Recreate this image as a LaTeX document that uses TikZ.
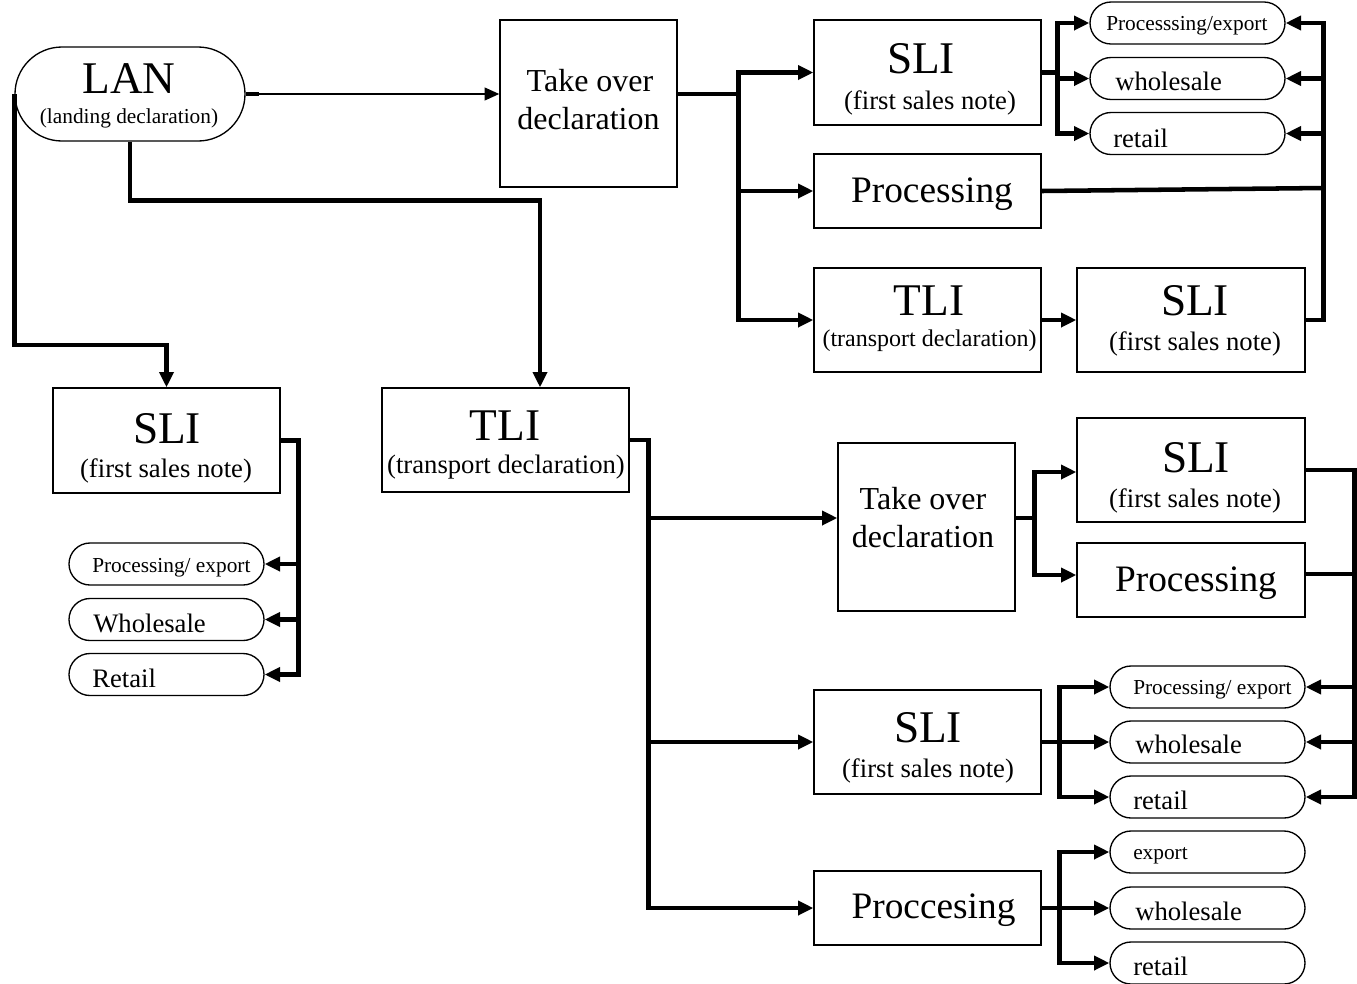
\documentclass[tikz,border=0pt]{standalone}
\usepackage{fontspec}
\setmainfont{Liberation Serif}
\usetikzlibrary{arrows.meta,shapes.misc,calc}
\tikzset{
  box/.style={draw, line width=1pt, inner sep=0pt},
  sz/.style 2 args={minimum width=#1*0.75pt, minimum height=#2*0.75pt},
  oval/.style={draw, rounded rectangle, line width=1pt, inner sep=0pt, minimum width=195*0.75pt, minimum height=42*0.75pt},
  t/.style={inner sep=0pt, anchor=base},
  tl/.style={inner sep=0pt, anchor=base west},
  fbig/.style={font=\fontsize{34}{40}\selectfont},
  fsub/.style={font=\fontsize{20}{24}\selectfont},
  fsubs/.style={font=\fontsize{18}{22}\selectfont},
  fland/.style={font=\fontsize{16}{19}\selectfont},
  ftake/.style={font=\fontsize{24}{28}\selectfont},
  fproc/.style={font=\fontsize{28}{33}\selectfont},
  fsmall/.style={font=\fontsize{16}{19}\selectfont},
  fmed/.style={font=\fontsize{20}{24}\selectfont},
  line/.style={line width=3.4pt},
  conn/.style={line width=3.4pt, -{Triangle[length=11.5pt,width=10.5pt]}},
  thinconn/.style={line width=1.5pt, -{Triangle[length=11pt,width=9.5pt]}}
}
\begin{document}
\begin{tikzpicture}[x=0.75pt,y=-0.75pt]
\useasboundingbox (0,0) rectangle (1357,983);

% ---- boxes ----
\node[draw, rounded rectangle, line width=1pt, inner sep=0pt, sz={230}{94}] (lan) at (130,94) {};
\node[box, sz={177}{167}] (tod1) at (588.5,103.5) {};
\node[box, sz={227}{105}] (sli1) at (927.5,72.5) {};
\node[box, sz={227}{74}] (proc1) at (927.5,191) {};
\node[box, sz={227}{104}] (tli1) at (927.5,320) {};
\node[box, sz={228}{104}] (sli2) at (1191,320) {};
\node[box, sz={227}{105}] (slil) at (166.5,440.5) {};
\node[box, sz={247}{104}] (tli2) at (505.5,440) {};
\node[box, sz={177}{168}] (tod2) at (926.5,527) {};
\node[box, sz={228}{104}] (sli3) at (1191,470) {};
\node[box, sz={228}{74}] (proc2) at (1191,580) {};
\node[box, sz={227}{104}] (sli4) at (927.5,742) {};
\node[box, sz={227}{74}] (proccesing) at (927.5,908) {};

% ---- ovals ----
\node[oval] (ot1) at (1187.5,23) {};
\node[oval] (ot2) at (1187.5,78.5) {};
\node[oval] (ot3) at (1187.5,133.5) {};
\node[oval] (ol1) at (166.5,564) {};
\node[oval] (ol2) at (166.5,619.5) {};
\node[oval] (ol3) at (166.5,674.5) {};
\node[oval] (om1) at (1207.5,687) {};
\node[oval] (om2) at (1207.5,742) {};
\node[oval] (om3) at (1207.5,797) {};
\node[oval] (ob1) at (1207.5,852) {};
\node[oval] (ob2) at (1207.5,908) {};
\node[oval] (ob3) at (1207.5,963) {};

% ---- texts ----
\node[t,fbig] (lanT) at (129,93) {LAN};
\node[t,fland] (lanS) at (129,123) {(landing declaration)};
\node[t,ftake] (tod1a) at (590,91) {Take over};
\node[t,ftake] (tod1b) at (588.5,129) {declaration};
\node[t,fbig] (sli1T) at (921,73) {SLI};
\node[t,fsub] (sli1S) at (930,109) {(first sales note)};
\node[t,fproc] (proc1T) at (932,202) {Processing};
\node[t,fbig] (tli1T) at (929,315) {TLI};
\node[t,fsubs] (tli1S) at (929.5,346) {(transport declaration)};
\node[t,fbig] (sli2T) at (1195,315) {SLI};
\node[t,fsub] (sli2S) at (1195,350) {(first sales note)};
\node[t,fbig] (slilT) at (167,443) {SLI};
\node[t,fsub] (slilS) at (166,477) {(first sales note)};
\node[t,fbig] (tli2T) at (505,440) {TLI};
\node[t,fsub] (tli2S) at (506,473) {(transport declaration)};
\node[t,ftake] (tod2a) at (923,509) {Take over};
\node[t,ftake] (tod2b) at (923,547) {declaration};
\node[t,fbig] (sli3T) at (1196,472) {SLI};
\node[t,fsub] (sli3S) at (1195,507) {(first sales note)};
\node[t,fproc] (proc2T) at (1196,591) {Processing};
\node[t,fbig] (sli4T) at (928,742) {SLI};
\node[t,fsub] (sli4S) at (928,777) {(first sales note)};
\node[t,fproc] (proccT) at (933.5,918) {Proccesing};

\node[tl,fsmall] (ot1T) at (1106,30) {Processsing/export};
\node[tl,fmed] (ot2T) at (1115,90) {wholesale};
\node[tl,fmed] (ot3T) at (1113,147) {retail};
\node[tl,fsmall] (ol1T) at (92,572) {Processing/ export};
\node[tl,fmed] (ol2T) at (93,632) {Wholesale};
\node[tl,fmed] (ol3T) at (92,687) {Retail};
\node[tl,fsmall] (om1T) at (1133,694) {Processing/ export};
\node[tl,fmed] (om2T) at (1135,753) {wholesale};
\node[tl,fmed] (om3T) at (1133,809) {retail};
\node[tl,fsmall] (ob1T) at (1133,859) {export};
\node[tl,fmed] (ob2T) at (1135,920) {wholesale};
\node[tl,fmed] (ob3T) at (1133,975) {retail};

% ---- connectors ----
\draw[line] (lan.east) -- ++(13,0);
\draw[thinconn] (lan.east) -- (tod1.west |- lan.east);
\draw[conn] (lan.west) -- ++(0,251) -| (slil.north);
\draw[conn] (lan.south) -- ++(0,59) -| ($(tli2.north)+(34.5,0)$);

\draw[conn] ($(tod1.east)+(0,-9.5)$) -- ++(61,0) |- (sli1.west);
\draw[conn] ($(tod1.east)+(0,-9.5)$) -- ++(61,0) |- (proc1.west);
\draw[conn] ($(tod1.east)+(0,-9.5)$) -- ++(61,0) |- (tli1.west);

\draw[conn] (sli1.east) -- ++(16,0) |- (ot1.west);
\draw[conn] (sli1.east) -- ++(16,0) |- (ot2.west);
\draw[conn] (sli1.east) -- ++(16,0) |- (ot3.west);

\draw[conn] (tli1.east) -- (sli2.west);
\draw[conn] (sli2.east) -- ++(18,0) |- (ot1.east);
\draw[conn] (sli2.east) -- ++(18,0) |- (ot2.east);
\draw[conn] (sli2.east) -- ++(18,0) |- (ot3.east);
\draw[line] (proc1.east) -- ($(sli2.east)+(18,-132)$);

\draw[conn] (slil.east) -- ++(18,0) |- (ol1.east);
\draw[conn] (slil.east) -- ++(18,0) |- (ol2.east);
\draw[conn] (slil.east) -- ++(18,0) |- (ol3.east);

\draw[conn] (tli2.east) -- ++(19,0) |- ($(tod2.west)+(0,-9)$);
\draw[conn] (tli2.east) -- ++(19,0) |- (sli4.west);
\draw[conn] (tli2.east) -- ++(19,0) |- (proccesing.west);

\draw[conn] ($(tod2.east)+(0,-9)$) -- ++(19,0) |- ($(sli3.west)+(0,2)$);
\draw[conn] ($(tod2.east)+(0,-9)$) -- ++(19,0) |- ($(proc2.west)+(0,-5)$);

\draw[conn] (sli3.east) -- ++(49,0) |- (om1.east);
\draw[conn] (sli3.east) -- ++(49,0) |- (om2.east);
\draw[conn] (sli3.east) -- ++(49,0) |- (om3.east);
\draw[line] ($(proc2.east)+(0,-6)$) -- ++(49,0);

\draw[conn] (sli4.east) -- ++(18,0) |- (om1.west);
\draw[conn] (sli4.east) -- ++(18,0) |- (om2.west);
\draw[conn] (sli4.east) -- ++(18,0) |- (om3.west);

\draw[conn] (proccesing.east) -- ++(18,0) |- (ob1.west);
\draw[conn] (proccesing.east) -- ++(18,0) |- (ob2.west);
\draw[conn] (proccesing.east) -- ++(18,0) |- (ob3.west);
\end{tikzpicture}
\end{document}
